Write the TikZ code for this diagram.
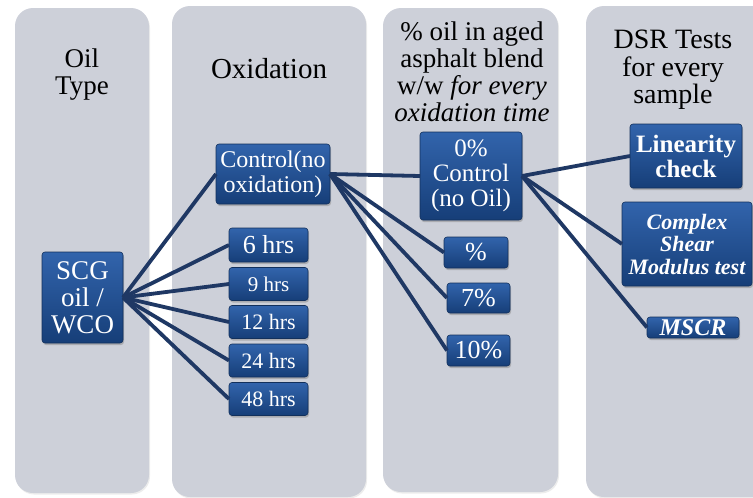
\documentclass[tikz,border=0pt]{standalone}
\usepackage{fontspec}
\setmainfont{Liberation Serif}
\usetikzlibrary{positioning,shadows}

\definecolor{colbg}{RGB}{205,208,217}
\definecolor{boxtop}{RGB}{50,100,172}
\definecolor{boxbot}{RGB}{22,62,120}
\definecolor{boxrim}{RGB}{18,48,92}
\definecolor{linkcol}{RGB}{31,56,100}

\begin{document}
\begin{tikzpicture}[x=1pt,y=-1pt,every node/.style={outer sep=0pt},
		column/.style={fill=colbg,rounded corners=18pt,
		drop shadow={shadow xshift=1pt,shadow yshift=-1.5pt,opacity=0.15}},
		heading/.style={align=center,font=\fontsize{27}{27}\selectfont},
		tile/.style={draw=boxrim,line width=0.6pt,top color=boxtop,
		bottom color=boxbot,rounded corners=3pt,text=white,align=center,
		inner sep=1pt,drop shadow={shadow xshift=1pt,shadow yshift=-2pt,
		opacity=0.45}},
		hrs/.style={tile,minimum width=79pt,minimum height=33pt},
		pct/.style={tile,minimum width=63pt,minimum height=31pt,
		font=\fontsize{26}{26}\selectfont},
		link/.style={draw=linkcol,line width=3.8pt},
		]
		\useasboundingbox (0,0) rectangle (753,498);

		% columns
		\fill[column] (15,8) rectangle (149,493);
		\fill[column] (172,6) rectangle (366,497);
		\fill[column] (383,8) rectangle (558,492);
		\fill[column] (586,6) rectangle (780,497);

		\node[heading] (t1) at (82,75) {Oil\\Type};
		\node[heading,font=\fontsize{29}{29}\selectfont] (t2) at (269,69) {Oxidation};
		\node[heading] (t3) at (472,72) {\% oil in aged\\asphalt blend\\w/w \textit{for every}\\\textit{oxidation time}};
		\node[heading,font=\fontsize{28}{27.5}\selectfont] (t4) at (673,70) {DSR Tests\\for every\\sample};

		\node[tile,minimum width=81pt,minimum height=91pt,
		 font=\fontsize{27}{27}\selectfont] (scg) at (82.5,297.5) {SCG\\oil /\\WCO};

		\node[tile,minimum width=114pt,minimum height=60pt,
		 font=\fontsize{24}{25}\selectfont] (ctrl) at (273,174) {Control(no\\oxidation)};
		\node[hrs,minimum height=34pt,font=\fontsize{26}{26}\selectfont] (h6) at (268.5,245) {6 hrs};
		\node[hrs,below=5.5pt of h6,font=\fontsize{21}{21}\selectfont] (h9) {9 hrs};
		\node[hrs,below=5pt of h9,font=\fontsize{22}{22}\selectfont] (h12) {12 hrs};
		\node[hrs,below=5.5pt of h12,font=\fontsize{22}{22}\selectfont] (h24) {24 hrs};
		\node[hrs,below=5.5pt of h24,font=\fontsize{22}{22}\selectfont] (h48) {48 hrs};

		\node[tile,minimum width=102pt,minimum height=88pt,
		 font=\fontsize{25}{25}\selectfont] (p0) at (471,176) {0\%\\Control\\(no Oil)};
		\node[pct,minimum width=64pt] (p5) at (476,252.5) {\%};
		\node[pct,minimum height=30pt] (p7) at (478.5,298) {7\%};
		\node[pct] (p10) at (478.5,350.5) {10\%};

		\node[tile,minimum width=112pt,minimum height=64pt,
		 font=\bfseries\fontsize{25}{25}\selectfont] (lin) at (686,156) {Linearity\\check};
		\node[tile,minimum width=130pt,minimum height=84pt,
		 font=\bfseries\itshape\fontsize{22}{22.5}\selectfont] (cplx) at (687,244) {Complex\\Shear\\Modulus test};
		\node[tile,minimum width=92pt,minimum height=21pt,inner sep=0pt,
		 font=\bfseries\itshape\fontsize{24}{24}\selectfont] (mscr) at (693,327.5) {MSCR};

		% connectors
		\draw[link] (scg.east) -- (ctrl.west);
		\foreach \t in {h6,h9,h12,h24,h48}
		 \draw[link] (scg.east) -- (\t.west);
		\foreach \t in {p0,p5,p7,p10}
		 \draw[link] (ctrl.east) -- (\t.west);
		\foreach \t in {lin,cplx,mscr}
		 \draw[link] (p0.east) -- (\t.west);

\end{tikzpicture}
\end{document}
